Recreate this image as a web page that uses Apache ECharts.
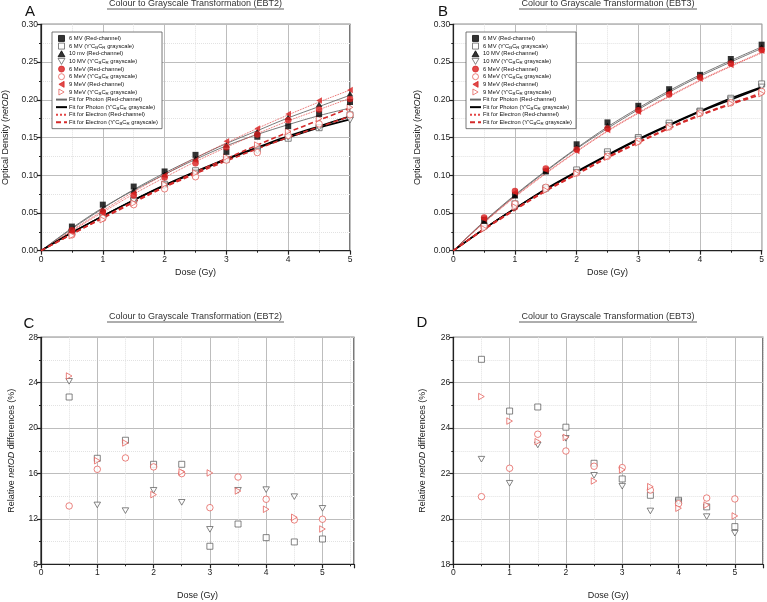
<!DOCTYPE html>
<html><head><meta charset="utf-8">
<script src="https://cdn.jsdelivr.net/npm/echarts@6/dist/echarts.min.js"></script>
<style>html,body{margin:0;padding:0;background:#fff}#c{width:767px;height:602px}</style>
</head><body><div id="c"></div>
<script>
const doses = [0.5, 1, 1.5, 2, 2.5, 3, 3.5, 4, 4.5, 5];
const fitDoses = [0, 0.5, 1, 1.5, 2, 2.5, 3, 3.5, 4, 4.5, 5];

// Panel A (EBT2) netOD
const a6MVRed   = [0.032, 0.061, 0.085, 0.105, 0.127, 0.131, 0.151, 0.165, 0.181, 0.197];
const a6MVGray  = [0.025, 0.047, 0.067, 0.088, 0.106, 0.121, 0.135, 0.149, 0.163, 0.180];
const a10MVRed  = [0.028, 0.055, 0.080, 0.101, 0.122, 0.140, 0.158, 0.177, 0.194, 0.208];
const a10MVGray = [0.024, 0.045, 0.066, 0.086, 0.103, 0.121, 0.132, 0.150, 0.163, 0.173];
const a6MeVRed  = [0.027, 0.052, 0.073, 0.097, 0.116, 0.137, 0.154, 0.173, 0.187, 0.201];
const a6MeVGray = [0.021, 0.043, 0.061, 0.082, 0.098, 0.120, 0.130, 0.153, 0.168, 0.180];
const a9MeVRed  = [0.025, 0.050, 0.076, 0.100, 0.120, 0.145, 0.162, 0.181, 0.199, 0.213];
const a9MeVGray = [0.020, 0.041, 0.063, 0.088, 0.103, 0.124, 0.140, 0.158, 0.175, 0.190];
// Panel A fits
const aFitPhRed1  = [0, 0.029, 0.056, 0.081, 0.103, 0.123, 0.142, 0.159, 0.176, 0.191, 0.206];
const aFitPhRed2  = [0, 0.030, 0.057, 0.080, 0.101, 0.121, 0.139, 0.154, 0.167, 0.179, 0.189];
const aFitPhGray1 = [0, 0.024, 0.046, 0.067, 0.086, 0.104, 0.121, 0.136, 0.150, 0.163, 0.174];
const aFitPhGray2 = [0, 0.024, 0.046, 0.067, 0.087, 0.105, 0.122, 0.137, 0.152, 0.165, 0.178];
const aFitElRed1  = [0, 0.027, 0.053, 0.078, 0.101, 0.123, 0.143, 0.162, 0.180, 0.197, 0.213];
const aFitElRed2  = [0, 0.026, 0.051, 0.075, 0.097, 0.118, 0.137, 0.155, 0.172, 0.187, 0.202];
const aFitElGray1 = [0, 0.022, 0.044, 0.065, 0.085, 0.104, 0.122, 0.140, 0.157, 0.173, 0.189];
const aFitElGray2 = [0, 0.022, 0.043, 0.064, 0.084, 0.102, 0.119, 0.135, 0.150, 0.164, 0.178];

// Panel B (EBT3) netOD
const b6MVRed   = [0.041, 0.074, 0.105, 0.141, 0.170, 0.192, 0.214, 0.233, 0.254, 0.273];
const b6MVGray  = [0.033, 0.062, 0.083, 0.107, 0.131, 0.150, 0.169, 0.185, 0.202, 0.221];
const b10MVRed  = [0.039, 0.073, 0.106, 0.137, 0.166, 0.190, 0.212, 0.232, 0.252, 0.270];
const b10MVGray = [0.030, 0.057, 0.081, 0.104, 0.128, 0.148, 0.166, 0.184, 0.200, 0.217];
const b6MeVRed  = [0.044, 0.079, 0.109, 0.134, 0.162, 0.186, 0.207, 0.230, 0.248, 0.266];
const b6MeVGray = [0.033, 0.062, 0.084, 0.103, 0.125, 0.145, 0.164, 0.182, 0.196, 0.211];
const b9MeVRed  = [0.042, 0.077, 0.107, 0.132, 0.160, 0.184, 0.209, 0.228, 0.246, 0.265];
const b9MeVGray = [0.029, 0.058, 0.080, 0.102, 0.124, 0.143, 0.163, 0.181, 0.195, 0.208];
// Panel B fits
const bFitPhRed1  = [0, 0.039, 0.074, 0.106, 0.136, 0.164, 0.189, 0.212, 0.233, 0.252, 0.270];
const bFitPhRed2  = [0, 0.038, 0.073, 0.105, 0.135, 0.162, 0.187, 0.210, 0.231, 0.250, 0.268];
const bFitPhGray1 = [0, 0.029, 0.056, 0.082, 0.105, 0.127, 0.148, 0.167, 0.185, 0.202, 0.217];
const bFitPhGray2 = [0, 0.029, 0.056, 0.081, 0.104, 0.126, 0.147, 0.166, 0.184, 0.200, 0.216];
const bFitElRed1  = [0, 0.038, 0.072, 0.103, 0.132, 0.159, 0.183, 0.205, 0.226, 0.245, 0.263];
const bFitElRed2  = [0, 0.037, 0.071, 0.102, 0.131, 0.158, 0.182, 0.204, 0.225, 0.244, 0.262];
const bFitElGray1 = [0, 0.029, 0.055, 0.080, 0.102, 0.124, 0.144, 0.163, 0.180, 0.195, 0.209];
const bFitElGray2 = [0, 0.028, 0.054, 0.079, 0.101, 0.123, 0.143, 0.162, 0.179, 0.194, 0.207];

// Panel C (EBT2) relative netOD differences (%)
const c6MV  = [22.74, 17.34, 18.93, 16.81, 16.81, 9.59, 11.55, 10.35, 9.97, 10.23];
const c10MV = [24.12, 13.23, 12.73, 14.52, 13.46, 11.08, 14.52, 14.58, 13.96, 12.93];
const c6MeV = [13.14, 16.37, 17.37, 16.58, 15.99, 12.99, 15.69, 13.73, 11.91, 11.97];
const c9MeV = [24.59, 17.13, 18.69, 14.14, 16.14, 16.05, 14.46, 12.85, 12.14, 11.11];
// Panel D (EBT3)
const d6MV  = [27.03, 24.75, 24.93, 24.04, 22.45, 21.76, 21.04, 20.82, 20.53, 19.66];
const d10MV = [22.63, 21.57, 23.26, 23.55, 21.92, 21.44, 20.35, 20.75, 20.10, 19.37];
const d6MeV = [20.98, 22.23, 23.73, 22.99, 22.32, 22.26, 21.27, 20.67, 20.92, 20.88];
const d9MeV = [25.39, 24.31, 23.40, 23.59, 21.67, 22.16, 21.42, 20.47, 20.61, 20.13];

const legendA = ["6 MV (Red-channel)", "6 MV (Y'CBCR grayscale)", "10 mv (Red-channel)", "10 MV (Y'CBCR grayscale)",
  "6 MeV (Red-channel)", "6 MeV (Y'CBCR grayscale)", "9 MeV (Red-channel)", "9 MeV (Y'CBCR grayscale)",
  "Fit for Photon (Red-channel)", "Fit for Photon (Y'CBCR grayscale)", "Fit for Electron (Red-channel)", "Fit for Electron (Y'CBCR grayscale)"];
const legendB = legendA.map(n => n === "10 mv (Red-channel)" ? "10 MV (Red-channel)" : n);

const FONT = "'Liberation Sans', Arial, sans-serif";
const AX = '#222';
const RED = '#d81e1e', RED2 = '#e2544e', GR = '#555';
const SQ = 'path://M0,0L10,0L10,10L0,10Z';
const TRI_UP = 'path://M5,0L10,8.66L0,8.66Z';
const TRI_DOWN = 'path://M0,0L10,0L5,8.66Z';
const TRI_LEFT = 'path://M8.66,0L8.66,10L0,5Z';
const TRI_RIGHT = 'path://M0,0L8.66,5L0,10Z';

const pair = (xs, ys) => xs.map((x, i) => [x, ys[i]]);

function mk(name, gi, ys, symbol, fill, stroke, size) {
  return {
    type: 'scatter', name, xAxisIndex: gi, yAxisIndex: gi, data: pair(doses, ys),
    symbol, symbolSize: size || 6.5, symbolKeepAspect: true, z: 5,
    itemStyle: { color: fill, borderColor: stroke, borderWidth: fill === '#fff' ? 0.9 : 0 }
  };
}
function fit(name, gi, ys, color, width, type) {
  return {
    type: 'line', name, xAxisIndex: gi, yAxisIndex: gi, data: pair(fitDoses, ys),
    smooth: 0.35, symbol: 'none', z: 3, lineStyle: { color, width, type }, itemStyle: { color }
  };
}
function panelSeries(gi, L, s) {
  return [
    fit(L[8], gi, s.fPR1, '#6a6a6a', 0.9, 'solid'),
    fit(L[8], gi, s.fPR2, '#6a6a6a', 0.9, 'solid'),
    fit(L[10], gi, s.fER1, '#e34545', 0.9, 'dotted'),
    fit(L[10], gi, s.fER2, '#e34545', 0.9, 'dotted'),
    fit(L[9], gi, s.fPG1, '#000', 1.6, 'solid'),
    fit(L[9], gi, s.fPG2, '#000', 1.6, 'solid'),
    fit(L[11], gi, s.fEG1, '#d42a2a', 1.6, [5, 3]),
    fit(L[11], gi, s.fEG2, '#d42a2a', 1.6, [5, 3]),
    mk(L[1], gi, s.mvG, SQ, '#fff', GR, 6),
    mk(L[3], gi, s.mv10G, TRI_DOWN, '#fff', GR),
    mk(L[5], gi, s.meG, 'circle', '#fff', RED2),
    mk(L[7], gi, s.me9G, TRI_RIGHT, '#fff', RED2),
    mk(L[0], gi, s.mvR, SQ, '#000', '#000', 6),
    mk(L[2], gi, s.mv10R, TRI_UP, '#000', '#000'),
    mk(L[4], gi, s.meR, 'circle', RED, RED),
    mk(L[6], gi, s.me9R, TRI_LEFT, RED, RED)
  ];
}
function relSeries(gi, tag, a, b, c, d) {
  return [
    mk(tag + ' 6 MV', gi, a, SQ, '#fff', GR, 6),
    mk(tag + ' 10 MV', gi, b, TRI_DOWN, '#fff', GR),
    mk(tag + ' 6 MeV', gi, c, 'circle', '#fff', RED2),
    mk(tag + ' 9 MeV', gi, d, TRI_RIGHT, '#fff', RED2)
  ];
}

const series = [].concat(
  panelSeries(0, legendA, { mvR: a6MVRed, mvG: a6MVGray, mv10R: a10MVRed, mv10G: a10MVGray, meR: a6MeVRed, meG: a6MeVGray, me9R: a9MeVRed, me9G: a9MeVGray,
    fPR1: aFitPhRed1, fPR2: aFitPhRed2, fPG1: aFitPhGray1, fPG2: aFitPhGray2, fER1: aFitElRed1, fER2: aFitElRed2, fEG1: aFitElGray1, fEG2: aFitElGray2 }),
  panelSeries(1, legendB, { mvR: b6MVRed, mvG: b6MVGray, mv10R: b10MVRed, mv10G: b10MVGray, meR: b6MeVRed, meG: b6MeVGray, me9R: b9MeVRed, me9G: b9MeVGray,
    fPR1: bFitPhRed1, fPR2: bFitPhRed2, fPG1: bFitPhGray1, fPG2: bFitPhGray2, fER1: bFitElRed1, fER2: bFitElRed2, fEG1: bFitElGray1, fEG2: bFitElGray2 }),
  relSeries(2, 'C', c6MV, c10MV, c6MeV, c9MeV),
  relSeries(3, 'D', d6MV, d10MV, d6MeV, d9MeV)
);

const lineSt = { color: AX, width: 1.2 };
function xAx(gi, max, gap, minorGrid) {
  return {
    type: 'value', gridIndex: gi, min: 0, max, interval: 1,
    name: 'Dose (Gy)', nameLocation: 'middle', nameGap: gap,
    nameTextStyle: { fontSize: 9, color: AX, fontFamily: FONT },
    axisLine: { show: true, onZero: false, lineStyle: lineSt },
    axisTick: { show: true, length: 4, lineStyle: lineSt },
    minorTick: { show: minorGrid, splitNumber: 2, length: 2, lineStyle: { color: AX } },
    splitLine: { show: true, lineStyle: { color: '#bdbdbd', width: 1 } },
    minorSplitLine: { show: minorGrid, lineStyle: { color: '#e2e2e2', type: 'dotted' } },
    axisLabel: { fontSize: 8.5, color: AX, fontFamily: FONT, margin: 4,
      formatter: v => (Math.abs(v - Math.round(v)) < 1e-9 ? String(Math.round(v)) : '') }
  };
}
function xHalf(gi, max) {
  return {
    type: 'value', gridIndex: gi, min: 0, max, interval: 0.5, position: 'bottom',
    axisLine: { show: false }, axisLabel: { show: false },
    axisTick: { show: true, length: 2, lineStyle: { color: AX } },
    splitLine: { show: true, lineStyle: { color: ['rgba(0,0,0,0)', '#e2e2e2'], type: 'dotted' } }
  };
}
function yAx(gi, min, max, interval, name, gap, fmt) {
  return {
    type: 'value', gridIndex: gi, min, max, interval,
    name, nameLocation: 'middle', nameGap: gap,
    nameTextStyle: { fontSize: 9, color: AX, fontFamily: FONT, rich: { i: { fontStyle: 'italic', fontSize: 9, fontFamily: FONT, color: AX } } },
    axisLine: { show: true, onZero: false, lineStyle: lineSt },
    axisTick: { show: true, length: 4, lineStyle: lineSt },
    minorTick: { show: true, splitNumber: 2, length: 2, lineStyle: { color: AX } },
    splitLine: { show: true, lineStyle: { color: '#bdbdbd', width: 1 } },
    minorSplitLine: { show: true, lineStyle: { color: '#e2e2e2', type: 'dotted' } },
    axisLabel: { fontSize: 8.5, color: AX, fontFamily: FONT, margin: 3, formatter: fmt }
  };
}

const legendFmt = n => n.replace("Y'CBCR", "Y'C{s|B}C{s|R}");
function legendCfg(names, left) {
  const data = names.map(n => n.indexOf('Fit') === 0
    ? { name: n, itemStyle: { color: 'rgba(0,0,0,0)', borderWidth: 0, opacity: 0 } }
    : { name: n });
  return {
    data, left, top: 32, orient: 'vertical', selectedMode: false, symbolKeepAspect: true,
    itemWidth: 11, itemHeight: 6, itemGap: 0.75,
    itemStyle: { borderWidth: 0.9 },
    padding: [3, 4, 3, 3], borderColor: '#555', borderWidth: 0.8, backgroundColor: '#fff',
    formatter: legendFmt,
    textStyle: { fontSize: 5.8, fontFamily: FONT, color: '#111', lineHeight: 6.8, padding: [0, 0, 0, -3],
      rich: { s: { fontSize: 4.4, fontFamily: FONT, color: '#111', verticalAlign: 'bottom', lineHeight: 6.8 } } }
  };
}

function titleG(cx, cy, text, x1, x2) {
  return [
    { type: 'text', x: cx, y: cy, style: { text, font: '9px ' + FONT, fill: '#333', align: 'center', verticalAlign: 'middle' } },
    { type: 'line', shape: { x1, y1: cy + 5, x2, y2: cy + 5 }, style: { stroke: '#333', lineWidth: 0.8 } }
  ];
}
function letterG(cx, cy, text) {
  return { type: 'text', x: cx, y: cy, style: { text, font: '15px ' + FONT, fill: '#111', align: 'center', verticalAlign: 'middle' } };
}

const fmt2 = v => v.toFixed(2);
const option = {
  backgroundColor: '#fff',
  animation: false,
  grid: [
    { left: 41, top: 24.3, width: 309, height: 226.4, show: true, borderColor: AX, borderWidth: 1.2 },
    { left: 453.3, top: 24.3, width: 308.7, height: 226.4, show: true, borderColor: AX, borderWidth: 1.2 },
    { left: 41, top: 337.3, width: 313, height: 227, show: true, borderColor: AX, borderWidth: 1.2 },
    { left: 453.3, top: 337.3, width: 309.7, height: 227, show: true, borderColor: AX, borderWidth: 1.2 }
  ],
  xAxis: [xAx(0, 5, 17, true), xAx(1, 5, 17, true), xAx(2, 5.56, 27, false), xAx(3, 5.5, 27, false), xHalf(2, 5.56), xHalf(3, 5.5)],
  yAxis: [
    yAx(0, 0, 0.30, 0.05, 'Optical Density ({i|netOD})', 31, fmt2),
    yAx(1, 0, 0.30, 0.05, 'Optical Density ({i|netOD})', 31, fmt2),
    yAx(2, 8, 28, 4, 'Relative {i|netOD} differences (%)', 25, v => String(v)),
    yAx(3, 18, 28, 2, 'Relative {i|netOD} differences (%)', 26, v => String(v))
  ],
  legend: [legendCfg(legendA, 52), legendCfg(legendB, 466)],
  graphic: [].concat(
    titleG(195.5, 4, 'Colour to Grayscale Transformation (EBT2)', 107, 284),
    titleG(608, 4, 'Colour to Grayscale Transformation (EBT3)', 519, 697),
    titleG(195.5, 317, 'Colour to Grayscale Transformation (EBT2)', 107, 284),
    titleG(608, 317, 'Colour to Grayscale Transformation (EBT3)', 519, 697),
    [letterG(30, 12, 'A'), letterG(443, 12, 'B'), letterG(29, 324, 'C'), letterG(422, 323, 'D')]
  ),
  series
};
const chart = echarts.init(document.getElementById('c'), null, { renderer: 'canvas' });
chart.setOption(option);
</script>
</body></html>
